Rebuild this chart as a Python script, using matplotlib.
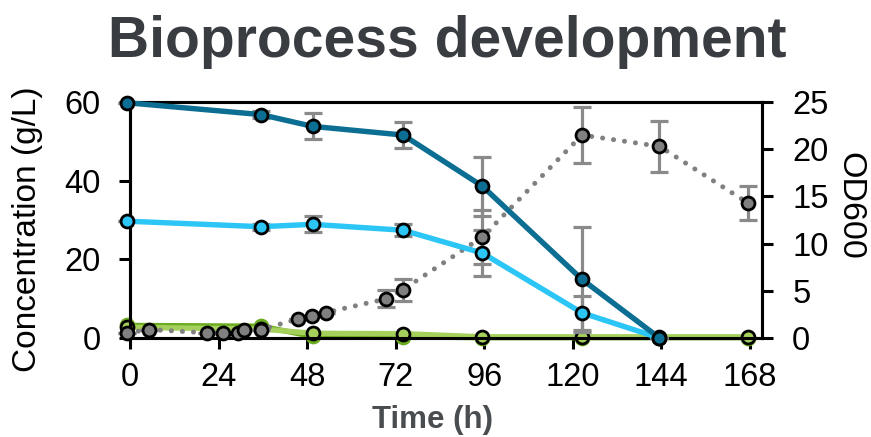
import matplotlib
matplotlib.use("Agg")
import matplotlib.pyplot as plt

plt.rcParams['font.family'] = ['Liberation Sans', 'DejaVu Sans']

# ---- data ----
t_main = [-0.7, 35.5, 49.5, 74, 95.5, 122.5, 143.5]
glucose = [59.8, 56.8, 53.8, 51.6, 38.6, 14.9, 0.0]
glucose_err = [0, 0.8, 3.3, 3.3, 7.5, 13.4, 0]
xylose = [29.7, 28.3, 28.9, 27.4, 21.6, 6.4, 0.0]
xylose_err = [0, 0.8, 2.0, 1.5, 5.8, 4.4, 0]

t_green = [-0.7, 35.5, 49.5, 74, 95.5, 122.5, 143.5, 167.5]
green_dark = [3.2, 3.0, 0.4, 0.3, 0.1, 0.1, 0.1, 0.1]
green_light = [2.7, 2.3, 1.2, 1.1, 0.3, 0.3, 0.3, 0.3]

t_od = [-0.7, 5.2, 20.8, 25.3, 29.3, 30.9, 35.5, 45.4, 49.2, 53.1, 69.4, 73.9, 95.5, 122.5, 143.5, 167.5]
od = [0.55, 0.9, 0.55, 0.55, 0.55, 0.9, 0.9, 2.0, 2.3, 2.7, 4.15, 5.1, 10.7, 21.5, 20.3, 14.3]
od_err = [0, 0, 0, 0, 0, 0, 0, 0, 0, 0, 0.9, 1.2, 2.9, 3.0, 2.7, 1.8]

xticks = [0, 24, 48, 72, 96, 120, 144, 168]
yticks_left = [0, 20, 40, 60]
yticks_right = [0, 5, 10, 15, 20, 25]

# ---- colours ----
C_DARK = '#0b6e92'
C_LIGHT = '#2cc6f6'
C_GDARK = '#6aab1f'
C_GLIGHT = '#a5d05b'
C_GRAY = '#808080'
C_ERR = '#8a8a8a'

fig = plt.figure(figsize=(8.71, 4.37), dpi=100)
ax = fig.add_axes([0.1493, 0.2265, 0.7252, 0.5401])
ax2 = ax.twinx()
ax.set_zorder(ax2.get_zorder() + 1)
ax.patch.set_visible(False)

ax.set_xlim(0, 171.2)
ax.set_ylim(0, 60)
ax2.set_ylim(0, 25)

ms = 9.3
mew = 2.0
lw = 3.9
eb = dict(fmt='none', ecolor=C_ERR, elinewidth=2.3, capsize=6.5, capthick=2.3, clip_on=False)

# greens
ax.plot(t_green, green_dark, color=C_GDARK, lw=lw, marker='o', ms=ms + 1,
        mfc=C_GDARK, mec=C_GDARK, zorder=2, clip_on=False)
ax.plot(t_green, green_light, color=C_GLIGHT, lw=lw, marker='o', ms=ms,
        mfc=C_GLIGHT, mec='black', mew=mew, zorder=2.5, clip_on=False)

# OD600 (right axis scale, drawn in the left axes for layering)
od_tr = ax2.transData
ax.errorbar(t_od, od, yerr=od_err, transform=od_tr, zorder=3, **eb)
ax.plot(t_od, od, transform=od_tr, color=C_GRAY, lw=3.6, linestyle=(0, (0.01, 2.2)),
        dash_capstyle='round', zorder=3.2, clip_on=False)
ax.plot(t_od, od, transform=od_tr, linestyle='none', marker='o', ms=ms, mfc=C_GRAY,
        mec='black', mew=mew, zorder=3.4, clip_on=False)

# xylose (light blue)
ax.errorbar(t_main, xylose, yerr=xylose_err, zorder=3, **eb)
ax.plot(t_main, xylose, color=C_LIGHT, lw=lw, marker='o', ms=ms,
        mfc=C_LIGHT, mec='black', mew=mew, zorder=4, clip_on=False)

# glucose (dark blue)
ax.errorbar(t_main, glucose, yerr=glucose_err, zorder=3, **eb)
ax.plot(t_main, glucose, color=C_DARK, lw=lw, marker='o', ms=ms,
        mfc=C_DARK, mec='black', mew=mew, zorder=5, clip_on=False)

ax.set_xticks(xticks)
ax.set_yticks(yticks_left)
ax2.set_yticks(yticks_right)

for a in (ax, ax2):
    for s in a.spines.values():
        s.set_linewidth(2.2)
        s.set_color('black')
    a.tick_params(width=2.2, length=8, labelsize=23.5, direction='out', color='black')
ax.tick_params(axis='x', pad=9)
ax.tick_params(axis='y', pad=13)
ax2.tick_params(axis='y', pad=14)

fig.text(0.032, 0.476, 'Concentration (g/L)', rotation=90, ha='center', va='center',
         fontsize=24, color='black')
fig.text(0.976, 0.529, 'OD600', rotation=270, ha='center', va='center',
         fontsize=24.5, color='black')
fig.text(0.497, 0.040, 'Time (h)', ha='center', va='center',
         fontsize=22.5, fontweight='bold', color='#4a4d50')
fig.text(0.513, 0.905, 'Bioprocess development', ha='center', va='center',
         fontsize=41, fontweight='bold', color='#393d41')

fig.savefig('out.png', dpi=100)
